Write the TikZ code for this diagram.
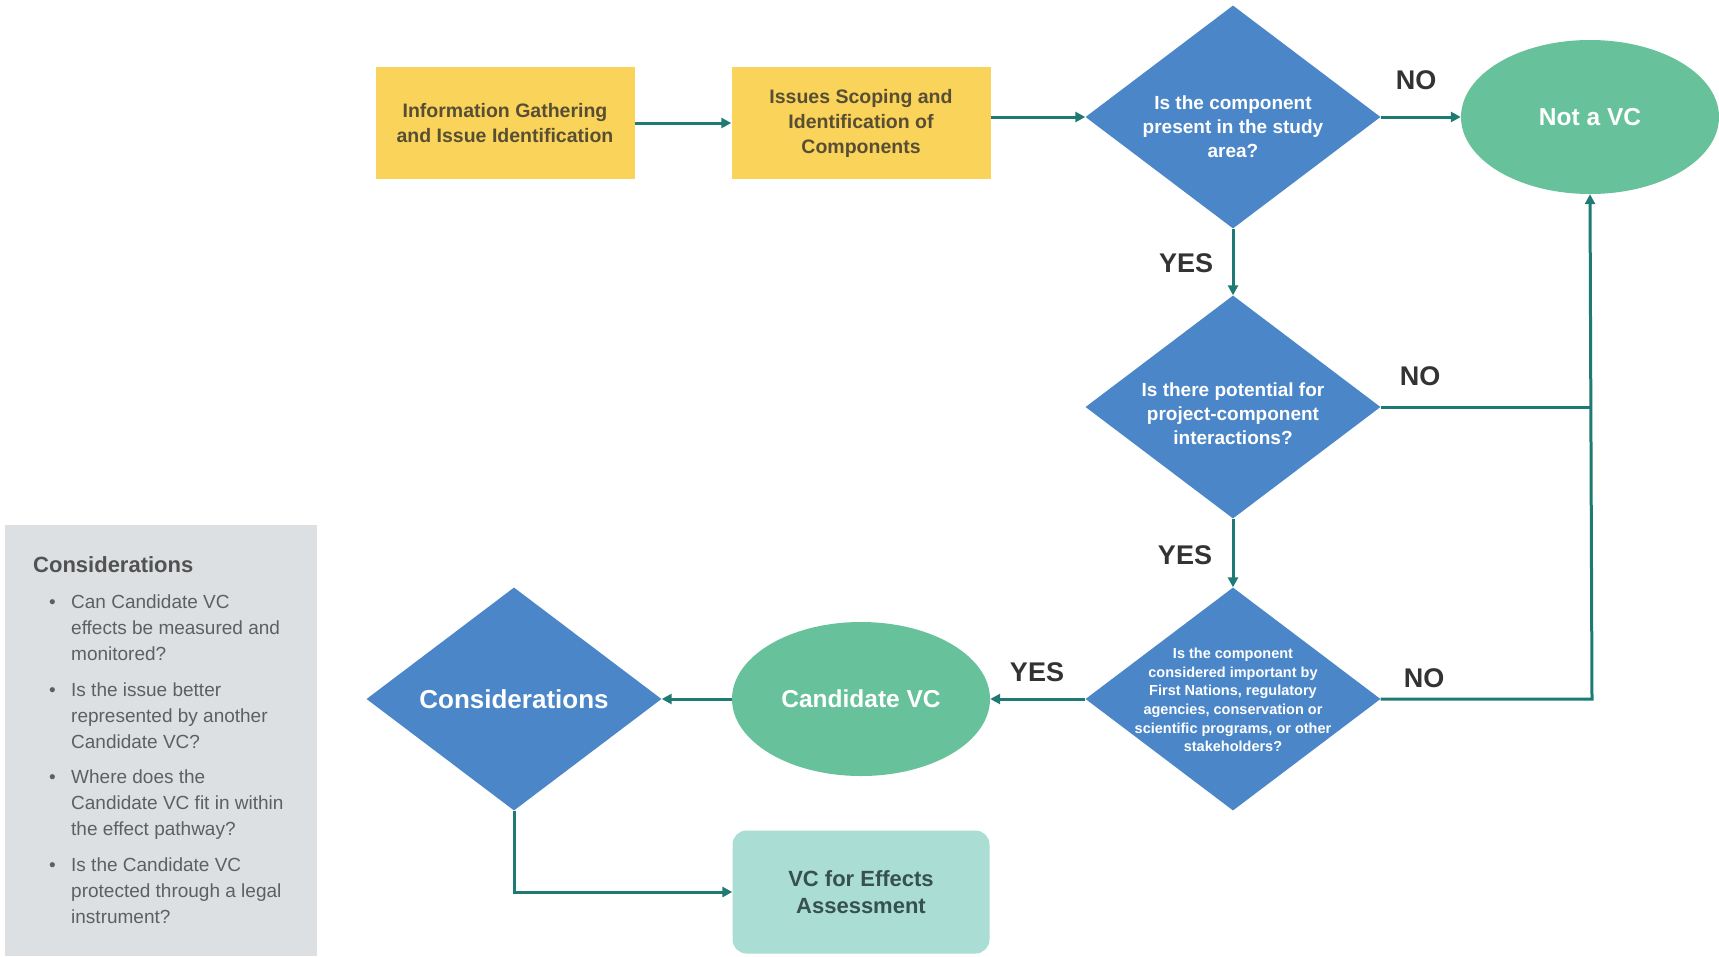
\documentclass[tikz,border=0pt]{standalone}
\usepackage{fontspec}
\setmainfont{Liberation Sans}
\usetikzlibrary{shapes.geometric,arrows.meta}
\definecolor{cyellow}{RGB}{249,211,90}
\definecolor{cblue}{RGB}{74,134,200}
\definecolor{cgreen}{RGB}{103,194,155}
\definecolor{cteal}{RGB}{170,222,212}
\definecolor{cline}{RGB}{31,122,115}
\definecolor{cgrey}{RGB}{221,224,227}
\definecolor{ybtext}{RGB}{88,78,52}
\definecolor{lbltext}{RGB}{51,51,51}
\definecolor{greytext}{RGB}{95,95,95}
\definecolor{tealtext}{RGB}{55,80,80}
\tikzset{
  ybox/.style={rectangle, fill=cyellow, minimum width=259pt, minimum height=112pt, inner sep=0pt,
    align=center, text=ybtext, font=\bfseries\fontsize{19.5}{25}\selectfont},
  dia/.style={diamond, fill=cblue, minimum width=295pt, minimum height=223pt, inner sep=0pt},
  diatext/.style={align=center, text=white, inner sep=0pt},
  ell/.style={ellipse, fill=cgreen, minimum width=258pt, minimum height=154pt, inner sep=0pt,
    text=white, font=\bfseries\fontsize{24.5}{28}\selectfont},
  conn/.style={draw=cline, line width=3pt},
  arr/.style={conn, -{Triangle[length=10pt,width=10pt]}},
  lbl/.style={text=lbltext, font=\bfseries\fontsize{27}{30}\selectfont},
  bul/.style={anchor=base west, text=greytext, inner sep=0pt, font=\fontsize{19}{26}\selectfont},
}
\begin{document}
\begin{tikzpicture}[x=1pt,y=-1pt]
\useasboundingbox[fill=white] (0,0) rectangle (1719,956);
% side panel
\node[fill=cgrey, minimum width=312pt, minimum height=431pt, inner sep=0pt, anchor=north west] (panel) at (5,525) {};
\node[anchor=base west, inner sep=0pt, text=lbltext!85, font=\bfseries\fontsize{22}{26}\selectfont] (ptitle) at (33,572) {Considerations};
\node[bul] (b1) at (49,608) {\textbullet};
\node[bul] (t1) at (71,608) {\begin{tabular}[t]{@{}l@{}}Can Candidate VC\\effects be measured and\\monitored?\end{tabular}};
\node[bul] (b2) at (49,696) {\textbullet};
\node[bul] (t2) at (71,696) {\begin{tabular}[t]{@{}l@{}}Is the issue better\\represented by another\\Candidate VC?\end{tabular}};
\node[bul] (b3) at (49,783) {\textbullet};
\node[bul] (t3) at (71,783) {\begin{tabular}[t]{@{}l@{}}Where does the\\Candidate VC fit in within\\the effect pathway?\end{tabular}};
\node[bul] (b4) at (49,871) {\textbullet};
\node[bul] (t4) at (71,871) {\begin{tabular}[t]{@{}l@{}}Is the Candidate VC\\protected through a legal\\instrument?\end{tabular}};
% top row
\node[ybox] (info) at (505,123) {Information Gathering\\and Issue Identification};
\node[ybox] (scope) at (861,123) {Issues Scoping and\\Identification of\\Components};
\node[dia] (d1) at (1233,117) {};
\node[diatext, font=\bfseries\fontsize{19}{24}\selectfont] (d1t) at (1233,127) {Is the component\\present in the study\\area?};
\node[ell] (nvc) at (1590,117) {Not a VC};
\node[dia] (d2) at (1233,407) {};
\node[diatext, font=\bfseries\fontsize{19}{24}\selectfont] (d2t) at (1233,414) {Is there potential for\\project-component\\interactions?};
\node[dia] (d3) at (1233,699) {};
\node[diatext, font=\bfseries\fontsize{14.5}{18.6}\selectfont] (d3t) at (1233,700) {Is the component\\considered important by\\First Nations, regulatory\\agencies, conservation or\\scientific programs, or other\\stakeholders?};
\node[ell] (cand) at (861,699) {Candidate VC};
\node[dia] (cons) at (514,699) {};
\node[diatext, font=\bfseries\fontsize{26}{30}\selectfont] (const) at (514,699) {Considerations};
\node[rectangle, rounded corners=14pt, fill=cteal, minimum width=257pt, minimum height=123pt, inner sep=0pt,
  align=center, text=tealtext, font=\bfseries\fontsize{22}{27}\selectfont] (vcea) at (861,892) {VC for Effects\\Assessment};
% connectors
\coordinate (r2) at (1592,407);
\coordinate (r3) at (1592,699);
\draw[arr] (info.east) -- (scope.west);
\draw[arr] (scope.east |- d1.west) -- (d1.west);
\draw[arr] (d1.east) -- (nvc.west);
\draw[arr] (d1.south) -- (d2.north);
\draw[arr] (d2.south) -- (d3.north);
\draw[conn] (d2.east) -- (r2);
\draw[arr] (d3.east) -- (r3) -- (nvc.south);
\draw[arr] (d3.west) -- (cand.east);
\draw[arr] (cand.west) -- (cons.east);
\draw[arr] (cons.south) |- (vcea.west);
% labels
\node[lbl] (no1) at (1416,80) {NO};
\node[lbl] (no2) at (1420,376) {NO};
\node[lbl] (no3) at (1424,678) {NO};
\node[lbl] (yes1) at (1186,263) {YES};
\node[lbl] (yes2) at (1185,555) {YES};
\node[lbl] (yes3) at (1037,672) {YES};
\end{tikzpicture}
\end{document}
